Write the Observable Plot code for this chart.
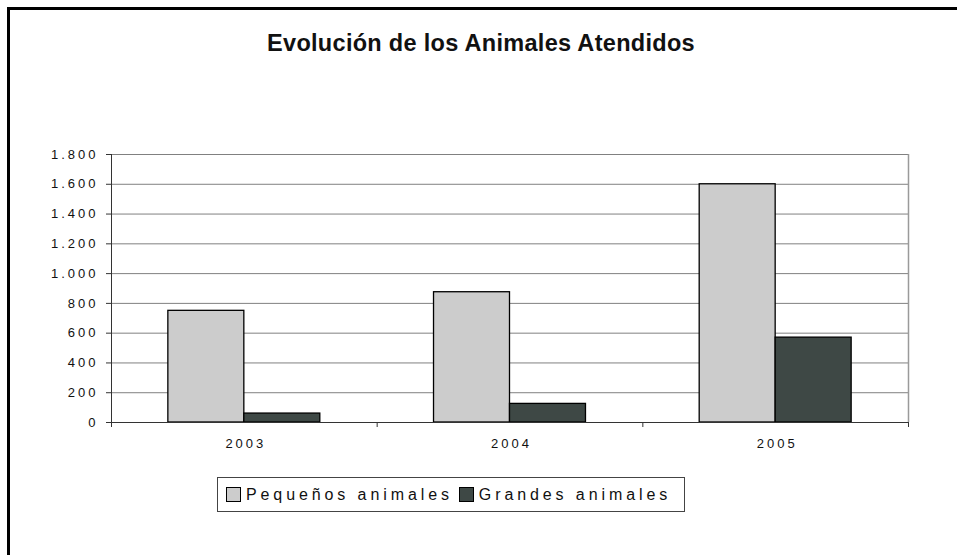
<!DOCTYPE html>
<html>
<head>
<meta charset="utf-8">
<script src="https://cdn.jsdelivr.net/npm/d3@7"></script>
<script src="https://cdn.jsdelivr.net/npm/@observablehq/plot@0.6"></script>
<style>
  html, body { margin: 0; padding: 0; background: #fff; }
  #wrap { position: relative; width: 957px; height: 555px; overflow: hidden; background: #fff; font-family: "Liberation Sans", Arial, sans-serif; }
  #frame { position: absolute; left: 7px; top: 7px; width: 1000px; height: 600px; border-top: 3px solid #000; border-left: 3px solid #000; }
  #title { position: absolute; left: 0; width: 962px; top: 30px; text-align: center; font-weight: bold; font-size: 23.5px; letter-spacing: 0.3px; color: #111; }
  #chart { position: absolute; left: 0; top: 140px; }
  #chart svg text { letter-spacing: 3px; }
  #legend { position: absolute; left: 217px; top: 477px; border: 1px solid #444; display: flex; align-items: center; padding-left: 8px; box-sizing: border-box; width: 468px; height: 35px; font-size: 16px; letter-spacing: 3.9px; color: #111; }
  .sw { display: inline-block; width: 13px; height: 13px; border: 1px solid #000; margin-right: 5px; }
  .item { display: flex; align-items: center; margin-right: 6px; }
</style>
</head>
<body>
<div id="wrap">
  <div id="frame"></div>
  <div id="title">Evolución de los Animales Atendidos</div>
  <div id="chart"></div>
  <div id="legend"></div>
</div>
<script>
const years = ["2003", "2004", "2005"];
const seriesNames = ["Pequeños animales", "Grandes animales"];
const pequenos = [750, 875, 1600];
const grandes = [60, 125, 570];
const yTicks = [0, 200, 400, 600, 800, 1000, 1200, 1400, 1600, 1800];
const colors = ["#cccccc", "#3e4845"];

const data = years.map((y, i) => ({year: y, p: pequenos[i], g: grandes[i]}));

const W = 957, H = 320, ML = 111, MR = 49, MT = 14, MB = 38;
const padInner = 0.428;
const step = (W - ML - MR) / years.length;
const bw = step * (1 - padInner);

const fmt = d3.formatLocale({decimal: ",", thousands: ".", grouping: [3], currency: ["", ""]}).format(",");

const chart = Plot.plot({
  width: W, height: H,
  marginLeft: ML, marginRight: MR, marginTop: MT, marginBottom: MB,
  style: {fontFamily: "Liberation Sans, Arial, sans-serif", background: "transparent"},
  x: {domain: years, paddingInner: padInner, paddingOuter: padInner / 2, round: false, label: null},
  y: {domain: [0, 1800], label: null},
  marks: [
    Plot.ruleY(yTicks.filter(d => d > 0), {stroke: "#808080", strokeWidth: 1}),
    Plot.ruleX([years[years.length - 1]], {dx: step / 2, stroke: "#9a9a9a", strokeWidth: 1.5}),
    Plot.barY(data, {x: "year", y: "p", insetRight: bw / 2, fill: colors[0], stroke: "#000", strokeWidth: 1.3}),
    Plot.barY(data, {x: "year", y: "g", insetLeft: bw / 2, fill: colors[1], stroke: "#000", strokeWidth: 1.3}),
    Plot.ruleX([years[0]], {dx: -step / 2, stroke: "#333", strokeWidth: 1}),
    Plot.ruleX(years, {dx: -step / 2, insetTop: H - MT - MB, insetBottom: -5, stroke: "#333", strokeWidth: 1}),
    Plot.ruleX([years[years.length - 1]], {dx: step / 2, insetTop: H - MT - MB, insetBottom: -5, stroke: "#333", strokeWidth: 1}),
    Plot.ruleY([0], {stroke: "#333", strokeWidth: 1.2}),
    Plot.axisY({ticks: yTicks, tickFormat: fmt, tickSize: 5, tickPadding: 8, fontSize: 13, stroke: "#333", fill: "#111", label: null}),
    Plot.axisX({tickSize: 0, tickPadding: 16, fontSize: 13, dx: 1.5, fill: "#111", label: null})
  ]
});
document.getElementById("chart").appendChild(chart);

const legend = document.getElementById("legend");
seriesNames.forEach((name, i) => {
  const item = document.createElement("span");
  item.className = "item";
  const sw = document.createElement("span");
  sw.className = "sw";
  sw.style.background = colors[i];
  item.appendChild(sw);
  item.appendChild(document.createTextNode(name));
  legend.appendChild(item);
});
</script>
</body>
</html>
